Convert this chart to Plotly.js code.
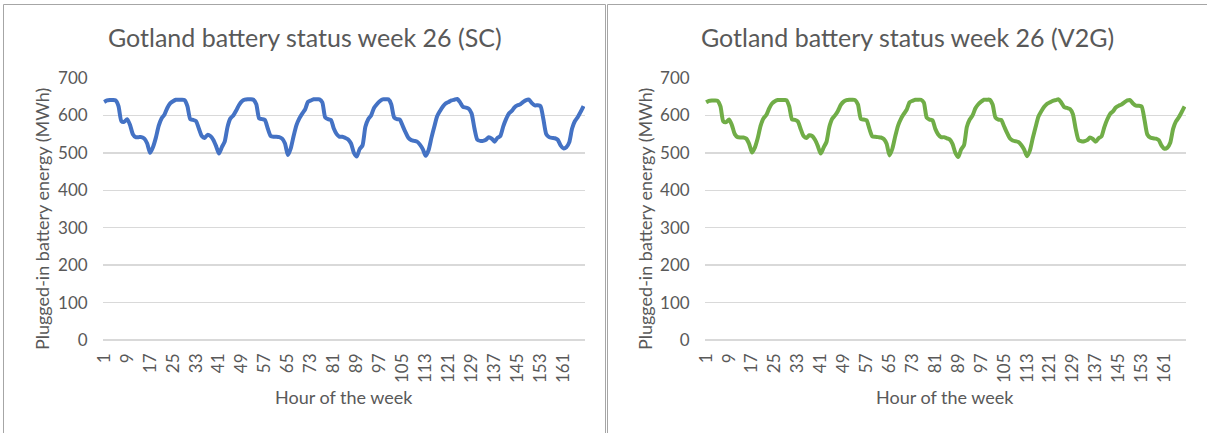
<!DOCTYPE html>
<html>
<head>
<meta charset="utf-8">
<script src="https://cdn.plot.ly/plotly-3.0.1.min.js"></script>
<style>html,body{margin:0;padding:0;background:#fff;}#chart{width:1207px;height:433px;}</style>
</head>
<body>
<div id="chart"></div>
<script>
// Hour of the week (1..168)
const hours = Array.from({length: 168}, (_, i) => i + 1);
const tickHours = [1, 9, 17, 25, 33, 41, 49, 57, 65, 73, 81, 89, 97, 105, 113, 121, 129, 137, 145, 153, 161];

const titleSC = "Gotland battery status week 26 (SC)";
const titleV2G = "Gotland battery status week 26 (V2G)";
const xTitle = "Hour of the week";
const yTitle = "Plugged-in battery energy (MWh)";

// Plugged-in battery energy (MWh), SC scenario
const energySC = [
  636, 640, 641, 641, 640, 625, 585, 583, 590, 575, 550, 542, 542, 542, 538, 525, 500, 515, 540, 572, 592, 602, 620, 632,
  638, 642, 642, 642, 641, 625, 590, 588, 585, 565, 545, 540, 548, 545, 535, 518, 498, 515, 530, 570, 592, 600, 613, 628,
  638, 642, 643, 643, 642, 630, 592, 590, 588, 565, 545, 543, 543, 542, 538, 525, 494, 512, 545, 574, 592, 605, 616, 636,
  640, 643, 643, 643, 635, 595, 590, 588, 565, 550, 543, 543, 540, 536, 525, 500, 490, 510, 520, 570, 590, 600, 620, 630,
  638, 643, 643, 643, 630, 595, 590, 589, 572, 555, 540, 534, 532, 530, 522, 510, 492, 507, 540, 570, 598, 612, 624, 632,
  636, 640, 642, 644, 635, 623, 621, 618, 605, 565, 535, 532, 532, 535, 542, 538, 530, 540, 545, 570, 590, 605, 612, 622,
  627, 630, 636, 641, 642, 633, 627, 627, 625, 590, 550, 542, 540, 539, 535, 520, 512, 515, 528, 565, 585, 596, 610, 625
];

// Plugged-in battery energy (MWh), V2G scenario
const energyV2G = [
  635, 639, 640, 640, 639, 624, 584, 582, 589, 574, 550, 542, 541, 541, 538, 524, 501, 514, 539, 572, 592, 601, 619, 632,
  638, 641, 641, 641, 641, 624, 589, 588, 584, 564, 545, 540, 547, 545, 535, 518, 498, 514, 529, 569, 591, 600, 612, 628,
  637, 641, 642, 642, 641, 629, 591, 589, 587, 564, 544, 543, 542, 541, 537, 524, 493, 511, 544, 573, 591, 604, 615, 635,
  639, 642, 642, 642, 634, 594, 589, 587, 564, 549, 542, 542, 539, 536, 524, 500, 489, 509, 520, 569, 589, 600, 619, 630,
  637, 642, 642, 642, 629, 594, 589, 588, 571, 554, 539, 533, 531, 529, 521, 509, 491, 506, 539, 569, 597, 611, 623, 631,
  635, 639, 641, 643, 634, 622, 620, 617, 604, 564, 534, 531, 531, 534, 541, 537, 530, 539, 544, 569, 589, 604, 611, 621,
  626, 629, 635, 640, 641, 632, 626, 626, 624, 589, 549, 541, 539, 538, 534, 519, 511, 514, 527, 564, 584, 595, 609, 624
];

const W = 1207, H = 433;
const px = v => v / W;
const py = v => 1 - v / H;

const FONT = "Lato, 'Open Sans', sans-serif";
const GREY = "#595959";

const xCommon = {
  range: [0.5, 168.5],
  tickmode: "array",
  tickvals: tickHours,
  ticktext: tickHours.map(String),
  tickangle: -90,
  ticks: "",
  ticklabelstandoff: 9,
  showgrid: false,
  zeroline: false,
  showline: false,
  tickfont: {family: FONT, size: 17, color: GREY},
  fixedrange: true
};
const yCommon = {
  range: [0, 700],
  dtick: 100,
  tick0: 0,
  ticks: "",
  ticklabelstandoff: 14,
  showgrid: true,
  gridcolor: "#d9d9d9",
  gridwidth: 1.4,
  zeroline: true,
  zerolinecolor: "#d9d9d9",
  zerolinewidth: 1.4,
  showline: false,
  tickfont: {family: FONT, size: 17, color: GREY},
  fixedrange: true
};

const traces = [
  {x: hours, y: energySC, type: "scatter", mode: "lines", xaxis: "x", yaxis: "y",
   line: {color: "#4472C4", width: 4, shape: "spline", smoothing: 0.6}, hoverinfo: "skip"},
  {x: hours, y: energyV2G, type: "scatter", mode: "lines", xaxis: "x2", yaxis: "y2",
   line: {color: "#70AD47", width: 4, shape: "spline", smoothing: 0.6}, hoverinfo: "skip"}
];

const yDom = [py(340), py(78)];

const layout = {
  width: W, height: H,
  margin: {l: 0, r: 0, t: 0, b: 0},
  paper_bgcolor: "#ffffff",
  plot_bgcolor: "#ffffff",
  showlegend: false,
  xaxis: Object.assign({}, xCommon, {domain: [px(102.7), px(585)], anchor: "y"}),
  yaxis: Object.assign({}, yCommon, {domain: yDom, anchor: "x"}),
  xaxis2: Object.assign({}, xCommon, {domain: [px(704.7), px(1186)], anchor: "y2"}),
  yaxis2: Object.assign({}, yCommon, {domain: yDom, anchor: "x2"}),
  shapes: [
    {type: "rect", xref: "paper", yref: "paper", x0: px(3.5), x1: px(605.5), y0: -0.1, y1: py(4.5),
     line: {color: "#a6a6a6", width: 1}},
    {type: "rect", xref: "paper", yref: "paper", x0: px(607.5), x1: 1.1, y0: -0.1, y1: py(4.5),
     line: {color: "#a6a6a6", width: 1}}
  ],
  annotations: [
    {text: titleSC, xref: "paper", yref: "paper", x: px(305), y: py(37), xanchor: "center", yanchor: "middle",
     showarrow: false, font: {family: FONT, size: 25, color: GREY}},
    {text: titleV2G, xref: "paper", yref: "paper", x: px(907), y: py(37), xanchor: "center", yanchor: "middle",
     showarrow: false, font: {family: FONT, size: 25, color: GREY}},
    {text: xTitle, xref: "paper", yref: "paper", x: px(344), y: py(397), xanchor: "center", yanchor: "middle",
     showarrow: false, font: {family: FONT, size: 18, color: GREY}},
    {text: xTitle, xref: "paper", yref: "paper", x: px(945), y: py(397), xanchor: "center", yanchor: "middle",
     showarrow: false, font: {family: FONT, size: 18, color: GREY}},
    {text: yTitle, xref: "paper", yref: "paper", x: px(42), y: py(219), xanchor: "center", yanchor: "middle",
     textangle: -90, showarrow: false, font: {family: FONT, size: 18, color: GREY}},
    {text: yTitle, xref: "paper", yref: "paper", x: px(645), y: py(219), xanchor: "center", yanchor: "middle",
     textangle: -90, showarrow: false, font: {family: FONT, size: 18, color: GREY}}
  ]
};

Plotly.newPlot("chart", traces, layout, {staticPlot: true, displayModeBar: false});
</script>
</body>
</html>
